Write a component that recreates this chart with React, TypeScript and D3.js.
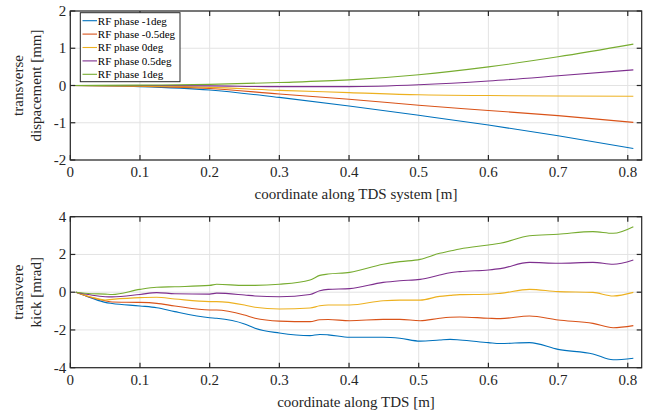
import React from "react";
import * as d3 from "d3";

const seriesNames = ["RF phase -1deg", "RF phase -0.5deg", "RF phase 0deg", "RF phase 0.5deg", "RF phase 1deg"];
const colors = ["#0072BD", "#D95319", "#EDB120", "#7E2F8E", "#77AC30"];

const topX = [0, 0.1, 0.2, 0.3, 0.4, 0.5, 0.6, 0.7, 0.808];
const topM1 = [0, -0.03, -0.12, -0.32, -0.55, -0.8, -1.06, -1.35, -1.69];
const topM05 = [0, -0.02, -0.08, -0.23, -0.37, -0.53, -0.67, -0.81, -0.99];
const top0 = [0, -0.01, -0.05, -0.13, -0.19, -0.25, -0.27, -0.28, -0.29];
const topP05 = [0, 0.0, -0.01, -0.03, -0.03, 0.02, 0.12, 0.26, 0.42];
const topP1 = [0, 0.01, 0.03, 0.08, 0.15, 0.29, 0.5, 0.77, 1.11];

const botX = [0.008, 0.03, 0.05, 0.06, 0.1, 0.124, 0.15, 0.2, 0.21, 0.25, 0.265, 0.3, 0.344, 0.358, 0.37, 0.401, 0.449, 0.473, 0.502, 0.53, 0.545, 0.559, 0.6, 0.617, 0.659, 0.7, 0.75, 0.779, 0.808];
const botM1 = [0, -0.3, -0.54, -0.6, -0.73, -0.82, -1.03, -1.35, -1.38, -1.68, -1.91, -2.16, -2.3, -2.24, -2.26, -2.39, -2.39, -2.44, -2.59, -2.53, -2.5, -2.53, -2.67, -2.72, -2.67, -3.03, -3.27, -3.58, -3.5];
const botM05 = [0, -0.28, -0.45, -0.52, -0.54, -0.59, -0.73, -0.94, -0.94, -1.21, -1.38, -1.53, -1.56, -1.46, -1.45, -1.51, -1.44, -1.44, -1.51, -1.38, -1.33, -1.31, -1.38, -1.4, -1.26, -1.47, -1.65, -1.88, -1.77];
const bot0 = [0, -0.25, -0.41, -0.38, -0.29, -0.27, -0.36, -0.5, -0.5, -0.68, -0.8, -0.89, -0.84, -0.72, -0.68, -0.68, -0.45, -0.42, -0.42, -0.22, -0.17, -0.13, -0.11, -0.06, 0.15, 0.03, -0.01, -0.2, -0.01];
const botP05 = [0, -0.15, -0.24, -0.25, -0.12, -0.02, -0.08, -0.1, -0.05, -0.15, -0.2, -0.24, -0.12, 0.08, 0.15, 0.19, 0.52, 0.61, 0.68, 0.91, 1.03, 1.09, 1.18, 1.25, 1.58, 1.53, 1.58, 1.48, 1.71];
const botP1 = [0, -0.08, -0.1, -0.12, 0.15, 0.26, 0.29, 0.36, 0.42, 0.36, 0.36, 0.42, 0.65, 0.89, 0.96, 1.05, 1.48, 1.62, 1.74, 2.06, 2.18, 2.29, 2.5, 2.59, 2.99, 3.07, 3.21, 3.12, 3.47];

const xTicks = [0, 0.1, 0.2, 0.3, 0.4, 0.5, 0.6, 0.7, 0.8];
const topYTicks = [-2, -1, 0, 1, 2];
const botYTicks = [-4, -2, 0, 2, 4];

const FONT = "'Liberation Serif', 'Times New Roman', Tinos, 'DejaVu Serif', serif";
const AX = "#262626";
const GRID = "#e3e3e3";

type PanelProps = {
  top: number;
  bottom: number;
  yDomain: [number, number];
  yTicks: number[];
  xs: number[];
  ys: number[][];
  yLabel: string[];
  xLabel: string;
  legend?: boolean;
};

const L = 70.3;
const R = 641.7;

function Panel({ top, bottom, yDomain, yTicks, xs, ys, yLabel, xLabel, legend }: PanelProps) {
  const x = d3.scaleLinear().domain([0, 0.82]).range([L, R]);
  const y = d3.scaleLinear().domain(yDomain).range([bottom, top]);
  const line = d3
    .line<number>()
    .x((_, i) => x(xs[i]))
    .y((d) => y(d))
    .curve(d3.curveMonotoneX);
  const tl = 5;
  const midY = (top + bottom) / 2;
  const ts = { fontFamily: FONT };
  return (
    <g style={ts}>
      {xTicks.map((t) => (
        <line key={"gx" + t} x1={x(t)} x2={x(t)} y1={top} y2={bottom} stroke={GRID} strokeWidth={1} />
      ))}
      {yTicks.map((t) => (
        <line key={"gy" + t} x1={L} x2={R} y1={y(t)} y2={y(t)} stroke={GRID} strokeWidth={1} />
      ))}
      {ys.map((s, i) => (
        <path key={"s" + i} d={line(s) || ""} fill="none" stroke={colors[i]} strokeWidth={1.1} />
      ))}
      <rect x={L} y={top} width={R - L} height={bottom - top} fill="none" stroke={AX} strokeWidth={1.2} />
      {xTicks.map((t) => (
        <g key={"tx" + t}>
          <line x1={x(t)} x2={x(t)} y1={bottom} y2={bottom - tl} stroke={AX} strokeWidth={1.2} />
          <line x1={x(t)} x2={x(t)} y1={top} y2={top + tl} stroke={AX} strokeWidth={1.2} />
          <text x={x(t)} y={bottom + 17} textAnchor="middle" style={ts} fontSize={15} fill={AX}>
            {String(t)}
          </text>
        </g>
      ))}
      {yTicks.map((t) => (
        <g key={"ty" + t}>
          <line x1={L} x2={L + tl} y1={y(t)} y2={y(t)} stroke={AX} strokeWidth={1.2} />
          <line x1={R} x2={R - tl} y1={y(t)} y2={y(t)} stroke={AX} strokeWidth={1.2} />
          <text x={L - 4} y={y(t) + 5} textAnchor="end" style={ts} fontSize={15} fill={AX}>
            {t < 0 ? "-" + Math.abs(t) : String(t)}
          </text>
        </g>
      ))}
      <text x={(L + R) / 2} y={bottom + 39} textAnchor="middle" style={ts} fontSize={15} fill={AX}>
        {xLabel}
      </text>
      <text transform={`translate(23,${midY}) rotate(-90)`} textAnchor="middle" style={ts} fontSize={15} fill={AX}>
        {yLabel[0]}
      </text>
      <text transform={`translate(41,${midY}) rotate(-90)`} textAnchor="middle" style={ts} fontSize={15} fill={AX}>
        {yLabel[1]}
      </text>
      {legend && (
        <g>
          <rect x={80.3} y={12.7} width={99.7} height={69} fill="#fff" stroke={AX} strokeWidth={1} />
          {seriesNames.map((n, i) => (
            <g key={"lg" + i}>
              <line x1={82.5} x2={97} y1={20.7 + i * 13.4} y2={20.7 + i * 13.4} stroke={colors[i]} strokeWidth={1.1} />
              <text x={97.8} y={20.7 + i * 13.4 + 3.8} style={ts} fontSize={11} fill="#000">
                {n}
              </text>
            </g>
          ))}
        </g>
      )}
    </g>
  );
}

export default function App() {
  return (
    <svg width={647} height={416} style={{ position: "absolute", left: 0, top: 0, background: "#fff" }}>
      <rect width={647} height={416} fill="#fff" />
      <Panel
        top={11}
        bottom={160}
        yDomain={[-2, 2]}
        yTicks={topYTicks}
        xs={topX}
        ys={[topM1, topM05, top0, topP05, topP1]}
        yLabel={["transverse", "dispacement [mm]"]}
        xLabel="coordinate along TDS system [m]"
        legend
      />
      <Panel
        top={216.7}
        bottom={367.7}
        yDomain={[-4, 4]}
        yTicks={botYTicks}
        xs={botX}
        ys={[botM1, botM05, bot0, botP05, botP1]}
        yLabel={["transvere", "kick [mrad]"]}
        xLabel="coordinate along TDS [m]"
      />
    </svg>
  );
}
